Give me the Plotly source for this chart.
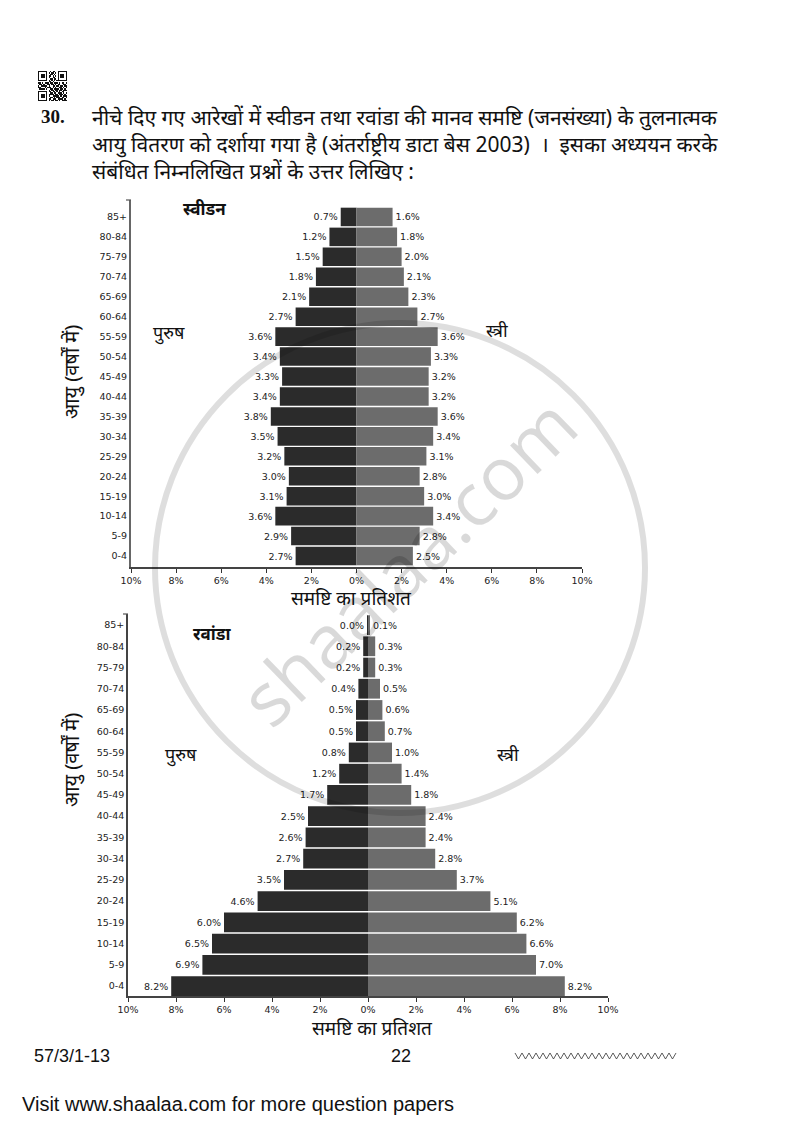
import plotly.graph_objects as go

W, H = 800, 1131

# data
ages = ["0-4", "5-9", "10-14", "15-19", "20-24", "25-29", "30-34", "35-39", "40-44",
        "45-49", "50-54", "55-59", "60-64", "65-69", "70-74", "75-79", "80-84", "85+"]
sweden_male = [2.7, 2.9, 3.6, 3.1, 3.0, 3.2, 3.5, 3.8, 3.4, 3.3, 3.4, 3.6, 2.7, 2.1, 1.8, 1.5, 1.2, 0.7]
sweden_female = [2.5, 2.8, 3.4, 3.0, 2.8, 3.1, 3.4, 3.6, 3.2, 3.2, 3.3, 3.6, 2.7, 2.3, 2.1, 2.0, 1.8, 1.6]
rwanda_male = [8.2, 6.9, 6.5, 6.0, 4.6, 3.5, 2.7, 2.6, 2.5, 1.7, 1.2, 0.8, 0.5, 0.5, 0.4, 0.2, 0.2, 0.04]
rwanda_female = [8.2, 7.0, 6.6, 6.2, 5.1, 3.7, 2.8, 2.4, 2.4, 1.8, 1.4, 1.0, 0.7, 0.6, 0.5, 0.3, 0.3, 0.06]
x_ticks = [-10, -8, -6, -4, -2, 0, 2, 4, 6, 8, 10]
x_ticktext = ["10%", "8%", "6%", "4%", "2%", "0%", "2%", "4%", "6%", "8%", "10%"]

qr_rows = [
    "1111111001011001111111",
    "1000001010110101000001",
    "1011101001101001011101",
    "1011101011010101011101",
    "1011101010011001011101",
    "1000001001101101000001",
    "1111111010101011111111",
    "0000000011010000000000",
    "1101011101101110101101",
    "0110100110110101100110",
    "1011111010011011011011",
    "1100010111010100110101",
    "0111101001101111011010",
    "0000000010110110110111",
    "1111111011011010101100",
    "1000001001101101110101",
    "1011101011110110111010",
    "1011101010011111010111",
    "1011101001101011101101",
    "1000001011011101111010",
    "1111111010110110101111",
]

DEVA = "Noto Sans, Liberation Serif, serif"
SERIF = "Liberation Serif, serif"
SANS = "Liberation Sans, sans-serif"
TICK = "DejaVu Sans, sans-serif"
DARK = "#2b2b2b"
MID = "#6c6c6c"


def px(x):
    return x / W


def py(y):
    return 1 - y / H


fig = go.Figure()


def pyramid(male, female, xa, ya):
    fig.add_trace(go.Bar(y=ages, x=[-v for v in male], orientation="h", xaxis=xa, yaxis=ya,
                         marker=dict(color=DARK, line=dict(width=0)),
                         text=[f"{v:.1f}%" for v in male], textposition="outside",
                         textfont=dict(family=TICK, size=9.5, color="#222"),
                         constraintext="none", cliponaxis=False, showlegend=False))
    fig.add_trace(go.Bar(y=ages, x=female, orientation="h", xaxis=xa, yaxis=ya,
                         marker=dict(color=MID, line=dict(width=0)),
                         text=[f"{v:.1f}%" for v in female], textposition="outside",
                         textfont=dict(family=TICK, size=9.5, color="#222"),
                         constraintext="none", cliponaxis=False, showlegend=False))


pyramid(sweden_male, sweden_female, "x", "y")
pyramid(rwanda_male, rwanda_female, "x2", "y2")

fig.add_trace(go.Heatmap(z=[[int(c) for c in row] for row in qr_rows], xaxis="x3", yaxis="y3",
                         colorscale=[[0, "white"], [1, "#111"]], showscale=False, hoverinfo="skip"))


def x_axis(left, right, anchor):
    return dict(domain=[px(left), px(right)], range=[-10, 10], anchor=anchor, tickmode="array",
                tickvals=x_ticks, ticktext=x_ticktext, ticks="outside", ticklen=4, tickwidth=1,
                tickcolor="#333", tickfont=dict(family=TICK, size=9.5, color="#222"),
                showline=True, linecolor="#444", linewidth=1.5, showgrid=False, zeroline=False,
                automargin=False)


def y_axis(top, bottom, anchor, rng, line_color, line_width):
    return dict(domain=[py(bottom), py(top)], range=rng, anchor=anchor, type="category",
                categoryorder="array", categoryarray=ages, ticks="", ticklen=0,
                tickfont=dict(family=TICK, size=9.5, color="#222"), showline=True,
                linecolor=line_color, linewidth=line_width, showgrid=False, zeroline=False,
                automargin=False)


def label(x, y, text, size, font=DEVA, xanchor="center", angle=0, bold=False, color="#111"):
    if bold:
        text = f"<b>{text}</b>"
    return dict(x=px(x), y=py(y), xref="paper", yref="paper", text=text, showarrow=False,
                xanchor=xanchor, yanchor="middle", textangle=angle,
                font=dict(family=font, size=size, color=color))


annotations = [
    label(39, 117, "<b>30.</b>", 19, SERIF, "left"),
    label(90, 117, "नीचे दिए गए आरेखों में स्वीडन तथा रवांडा की मानव समष्टि (जनसंख्या) के तुलनात्मक", 21, xanchor="left"),
    label(90, 144, "आयु वितरण को दर्शाया गया है (अंतर्राष्ट्रीय डाटा बेस 2003) &nbsp;।&nbsp; इसका अध्ययन करके", 21, xanchor="left"),
    label(90, 171, "संबंधित निम्नलिखित प्रश्नों के उत्तर लिखिए :", 21, xanchor="left"),
    label(204, 208, "स्वीडन", 17, bold=True),
    label(169, 332, "पुरुष", 18),
    label(497, 330, "स्त्री", 18),
    label(72, 372, "आयु (वर्षों में)", 20, angle=-90),
    label(351, 598, "समष्टि का प्रतिशत", 19),
    label(212, 633, "रवांडा", 17, bold=True),
    label(181, 754, "पुरुष", 18),
    label(508, 754, "स्त्री", 18),
    label(72, 760, "आयु (वर्षों में)", 20, angle=-90),
    label(372, 1028, "समष्टि का प्रतिशत", 19),
    label(32, 1056, "57/3/1-13", 18, SANS, "left"),
    label(401, 1056, "22", 18, SANS),
    label(20, 1104, "Visit www.shaalaa.com for more question papers", 20, SANS, "left"),
    label(407, 560, "shaalaa.com", 74, "Open Sans, sans-serif", angle=-44, color="rgba(0,0,0,0.15)"),
]

# zigzag rule at the foot of the page
zig = []
for i in range(47):
    xp = 515 + i * 3.5
    yp = 1053 if i % 2 == 0 else 1059
    zig.append(("M" if i == 0 else "L") + f"{px(xp):.5f},{py(yp):.5f}")

shapes = [
    dict(type="path", path=" ".join(zig), xref="paper", yref="paper", line=dict(color="#333", width=0.8)),
    dict(type="circle", xref="paper", yref="paper", x0=px(155), x1=px(645), y0=py(813), y1=py(323),
         line=dict(color="rgba(0,0,0,0.13)", width=6)),
    # end caps on the value axes
    dict(type="line", xref="paper", yref="paper", x0=px(126), x1=px(131), y0=py(200), y1=py(200),
         line=dict(color="#555", width=1.2)),
    dict(type="line", xref="paper", yref="paper", x0=px(123), x1=px(128), y0=py(614), y1=py(614),
         line=dict(color="#555", width=1.2)),
]

fig.update_layout(
    template="none",
    width=W, height=H, margin=dict(l=0, r=0, t=0, b=0, pad=0), autosize=False,
    paper_bgcolor="white", plot_bgcolor="rgba(0,0,0,0)", barmode="relative", bargap=0.07,
    xaxis=x_axis(131, 582, "y"),
    yaxis=y_axis(200, 567, "x", [-0.55, 17.85], "#666", 2),
    xaxis2=x_axis(128, 608, "y2"),
    yaxis2=y_axis(614, 996, "x2", [-0.47, 17.52], "#444", 1.5),
    xaxis3=dict(domain=[px(38), px(67)], anchor="y3", visible=False, automargin=False),
    yaxis3=dict(domain=[py(101), py(71)], anchor="x3", visible=False, autorange="reversed", automargin=False),
    annotations=annotations, shapes=shapes, showlegend=False,
)

fig.write_html("out.html", config={"displayModeBar": False},
               post_script="document.body.style.margin='0';")
